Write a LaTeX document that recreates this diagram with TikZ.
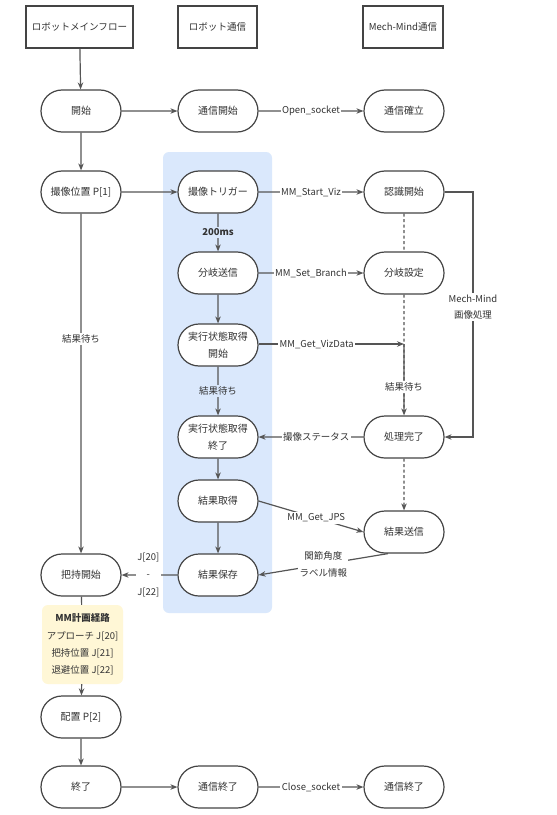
\documentclass[tikz,border=0pt]{standalone}
\usepackage{fontspec}
\setmainfont{Noto Sans CJK JP}
\usetikzlibrary{arrows.meta,shapes.misc,positioning}
\definecolor{ln}{HTML}{555555}
\definecolor{bd}{HTML}{444444}
\definecolor{tx}{HTML}{333333}
\definecolor{bluebg}{HTML}{DAE8FC}
\definecolor{yelbg}{HTML}{FFF7D6}
\tikzset{
  hdr/.style={draw=bd, line width=1.1bp, minimum height=42bp, text=tx, font=\fontsize{9.6}{16}\selectfont, inner sep=0pt},
  stad/.style={rounded rectangle, draw=bd, line width=1.2bp, minimum width=80bp, minimum height=42bp, text=tx, align=center, font=\fontsize{10}{16.5}\selectfont, inner sep=0pt, fill=white},
  arr/.style={draw=ln, line width=1.2bp, -{Stealth[length=7bp,width=5.5bp]}},
  lin/.style={draw=ln, line width=1.2bp},
  dsh/.style={draw=ln, line width=1.1bp, dash pattern=on 3bp off 2.5bp},
  lab/.style={fill=white, text=tx, font=\fontsize{9.5}{16.5}\selectfont, inner sep=1.5bp, align=center},
  labb/.style={lab, fill=bluebg}
}
\begin{document}
\begin{tikzpicture}[x=1bp,y=-1bp]
\useasboundingbox (0,0) rectangle (557,815);
\fill[white] (0,0) rectangle (557,815);
% background panels
\fill[bluebg, rounded corners=6bp] (163,152) rectangle (272,613);
% header boxes
\node[hdr, minimum width=107bp] (h1) at (79.5,27) {ロボットメインフロー};
\node[hdr, minimum width=79bp] (h2) at (217.5,27) {ロボット通信};
\node[hdr, minimum width=80bp] (h3) at (403,27) {Mech-Mind通信};
% column 1
\node[stad] (start) at (81,111) {開始};
\node[stad] (cap) at (81,192) {撮像位置 P[1]};
\node[stad] (grip) at (81,575) {把持開始};
\node[fill=yelbg, rounded corners=6bp, minimum width=81bp, minimum height=79bp, inner sep=0pt, text=tx, align=center, font=\fontsize{9.5}{17.3}\selectfont] (plan) at (82.5,644.5) {\textbf{MM計画経路}\\アプローチ J[20]\\把持位置 J[21]\\退避位置 J[22]};
\node[stad] (place) at (81,717) {配置 P[2]};
\node[stad] (fin) at (81,787) {終了};
% column 2
\node[stad] (comS) at (218,111) {通信開始};
\node[stad] (trig) at (218,192) {撮像トリガー};
\node[stad] (brS) at (218,273) {分岐送信};
\node[stad] (ex1) at (218,345) {実行状態取得\\開始};
\node[stad] (ex2) at (218,437) {実行状態取得\\終了};
\node[stad] (res) at (218,501) {結果取得};
\node[stad] (save) at (218,575) {結果保存};
\node[stad] (comEnd) at (218,787) {通信終了};
% column 3
\node[stad] (comE) at (404,111) {通信確立};
\node[stad] (rec) at (404,192) {認識開始};
\node[stad] (brD) at (404,273) {分岐設定};
\node[stad] (done) at (404,437) {処理完了};
\node[stad] (rsend) at (404,532) {結果送信};
\node[stad] (comEnd2) at (404,787) {通信終了};
\coordinate (vz) at (404,344);
\coordinate (rt) at (473,192);
\coordinate (rb) at (473,437);
% column 1 flow
\draw[arr] (h1) -- (start);
\draw[arr] (start) -- (cap);
\draw[arr] (cap) -- node[lab, pos=0.37]{結果待ち} (grip);
\draw[lin] (grip) -- (plan);
\draw[arr] (plan) -- (place);
\draw[arr] (place) -- (fin);
% horizontal
\draw[arr] (start) -- (comS);
\draw[arr] (comS) -- node[lab]{Open\_socket} (comE);
\draw[arr] (cap) -- (trig);
\draw[arr] (trig) -- node[lab]{MM\_Start\_Viz} (rec);
\draw[arr] (brS) -- node[lab]{MM\_Set\_Branch} (brD);
\draw[arr] (fin) -- (comEnd);
\draw[arr] (comEnd) -- node[lab]{Close\_socket} (comEnd2);
% column 2 flow
\draw[arr] (trig) -- node[labb, font=\fontsize{9.5}{16}\selectfont\bfseries]{200ms} (brS);
\draw[arr] (brS) -- (ex1);
\draw[arr] (ex1) -- node[labb]{結果待ち} (ex2);
\draw[arr] (ex2) -- (res);
\draw[arr] (res) -- (save);
% column 3
\draw[dsh] (rec) -- (brD);
\draw[dsh] (brD) -- (done);
\draw[dsh, -{Stealth[length=7bp,width=5.5bp]}] (done) -- (rsend);
\draw[arr] (ex1.east |- vz) -- node[lab, pos=0.4]{MM\_Get\_VizData} (vz);
\draw[arr] (vz) -- node[lab, pos=0.6]{結果待ち} (done);
\draw[arr] (rec.east) -- (rt) -- node[lab, pos=0.47]{Mech-Mind\\画像処理} (rb) -- (done.east);
\draw[arr] (done) -- node[lab, pos=0.45]{撮像ステータス} (ex2);
\draw[arr] (res.east) -- node[lab, pos=0.55]{MM\_Get\_JPS} (rsend.west);
\draw[arr] (rsend.south west) ++(3,0) coordinate (rs) (rs) -- node[lab, pos=0.5]{関節角度\\ラベル情報} (save.east);
\draw[arr] (save) -- node[lab, pos=0.52, font=\fontsize{9.5}{17.5}\selectfont]{J[20]\\-\\J[22]} (grip);
\end{tikzpicture}
\end{document}
